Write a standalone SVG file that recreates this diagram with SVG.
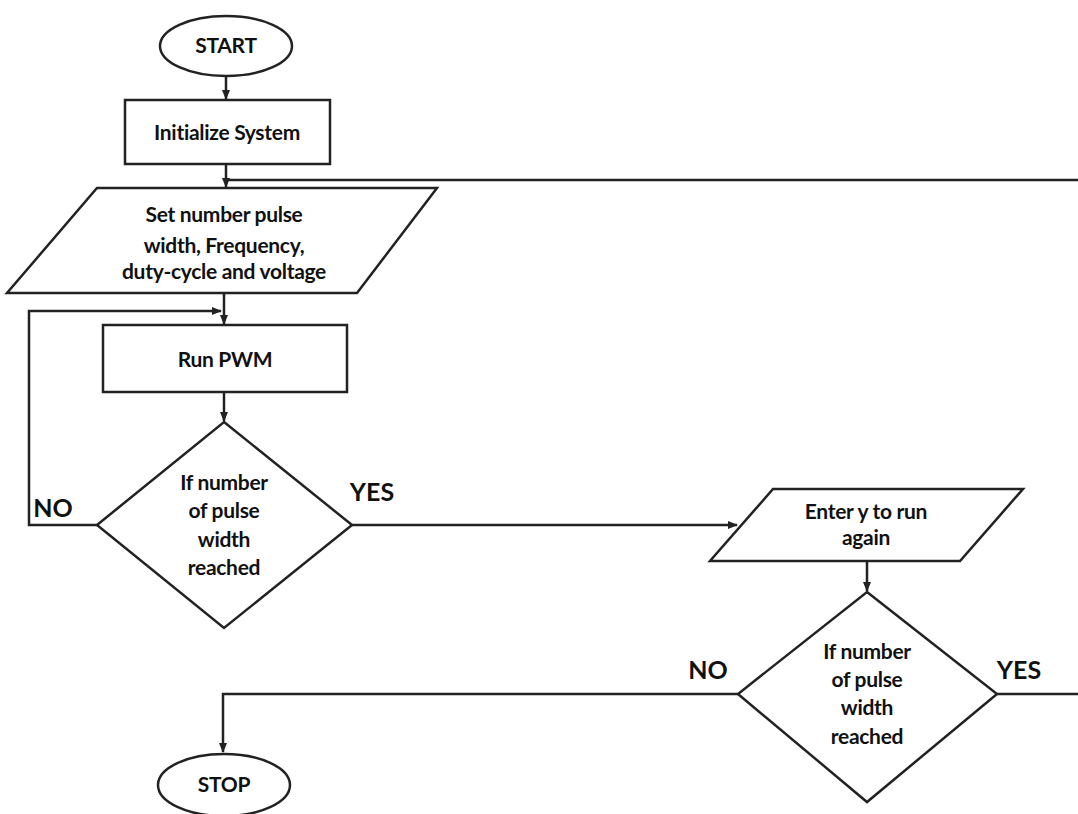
<svg xmlns="http://www.w3.org/2000/svg" width="1078" height="814" viewBox="0 0 1078 814">
<defs>
<style>
.s{fill:#fff;stroke:#222;stroke-width:2.5}
.c{fill:none;stroke:#222;stroke-width:2.5}
.t{font-family:Lato,"Liberation Sans",sans-serif;font-weight:bold;font-size:21px;fill:#111;text-anchor:middle;letter-spacing:-0.3px}
.l{font-family:Lato,"Liberation Sans",sans-serif;font-weight:bold;font-size:25px;fill:#111;text-anchor:middle}
</style>
<marker id="a" viewBox="0 0 10 10" refX="9" refY="5" markerWidth="4" markerHeight="4" orient="auto" markerUnits="strokeWidth">
<path d="M0,1 L10,5 L0,9 Z" fill="#222"/>
</marker>
</defs>
<rect width="1078" height="814" fill="#fff"/>
<g id="connectors">
<path class="c" d="M226,76 V99" marker-end="url(#a)"/>
<path class="c" d="M226,164 V187" marker-end="url(#a)"/>
<path class="c" d="M1078,180 H227"/>
<path class="c" d="M224,293 V324" marker-end="url(#a)"/>
<path class="c" d="M97,525 H29 V311 H221" marker-end="url(#a)"/>
<path class="c" d="M224,392 V421" marker-end="url(#a)"/>
<path class="c" d="M352,525 H737" marker-end="url(#a)"/>
<path class="c" d="M867,561 V591" marker-end="url(#a)"/>
<path class="c" d="M738,694 H223 V752" marker-end="url(#a)"/>
<path class="c" d="M997,694 H1078"/>
</g>
<g id="start">
<ellipse class="s" cx="226" cy="46" rx="66" ry="30"/>
<text class="t" x="226" y="53">START</text>
</g>
<g id="init">
<rect class="s" x="125" y="100" width="205" height="64"/>
<text class="t" x="227" y="140">Initialize System</text>
</g>
<g id="setparams">
<polygon class="s" points="97,188 437,188 357,293 7,293"/>
<text class="t" x="224" y="222">Set number pulse</text>
<text class="t" x="224" y="253">width, Frequency,</text>
<text class="t" x="224" y="279">duty-cycle and voltage</text>
</g>
<g id="runpwm">
<rect class="s" x="103" y="325" width="244" height="67"/>
<text class="t" x="225" y="367">Run PWM</text>
</g>
<g id="decision1">
<polygon class="s" points="224,422 352,525 224,628 97,525"/>
<text class="t" x="224" y="490">If number</text>
<text class="t" x="224" y="518">of pulse</text>
<text class="t" x="224" y="547">width</text>
<text class="t" x="224" y="575">reached</text>
<text class="l" x="53" y="517">NO</text>
<text class="l" x="372" y="501">YES</text>
</g>
<g id="enter">
<polygon class="s" points="773,489 1023,489 960,561 710,561"/>
<text class="t" x="866" y="519">Enter y to run</text>
<text class="t" x="866" y="545">again</text>
</g>
<g id="decision2">
<polygon class="s" points="867,592 997,694 867,802 738,694"/>
<text class="t" x="867" y="659">If number</text>
<text class="t" x="867" y="687">of pulse</text>
<text class="t" x="867" y="715">width</text>
<text class="t" x="867" y="744">reached</text>
<text class="l" x="708" y="679">NO</text>
<text class="l" x="1019" y="679">YES</text>
</g>
<g id="stop">
<ellipse class="s" cx="224" cy="785" rx="66" ry="31"/>
<text class="t" x="224" y="792">STOP</text>
</g>
</svg>
